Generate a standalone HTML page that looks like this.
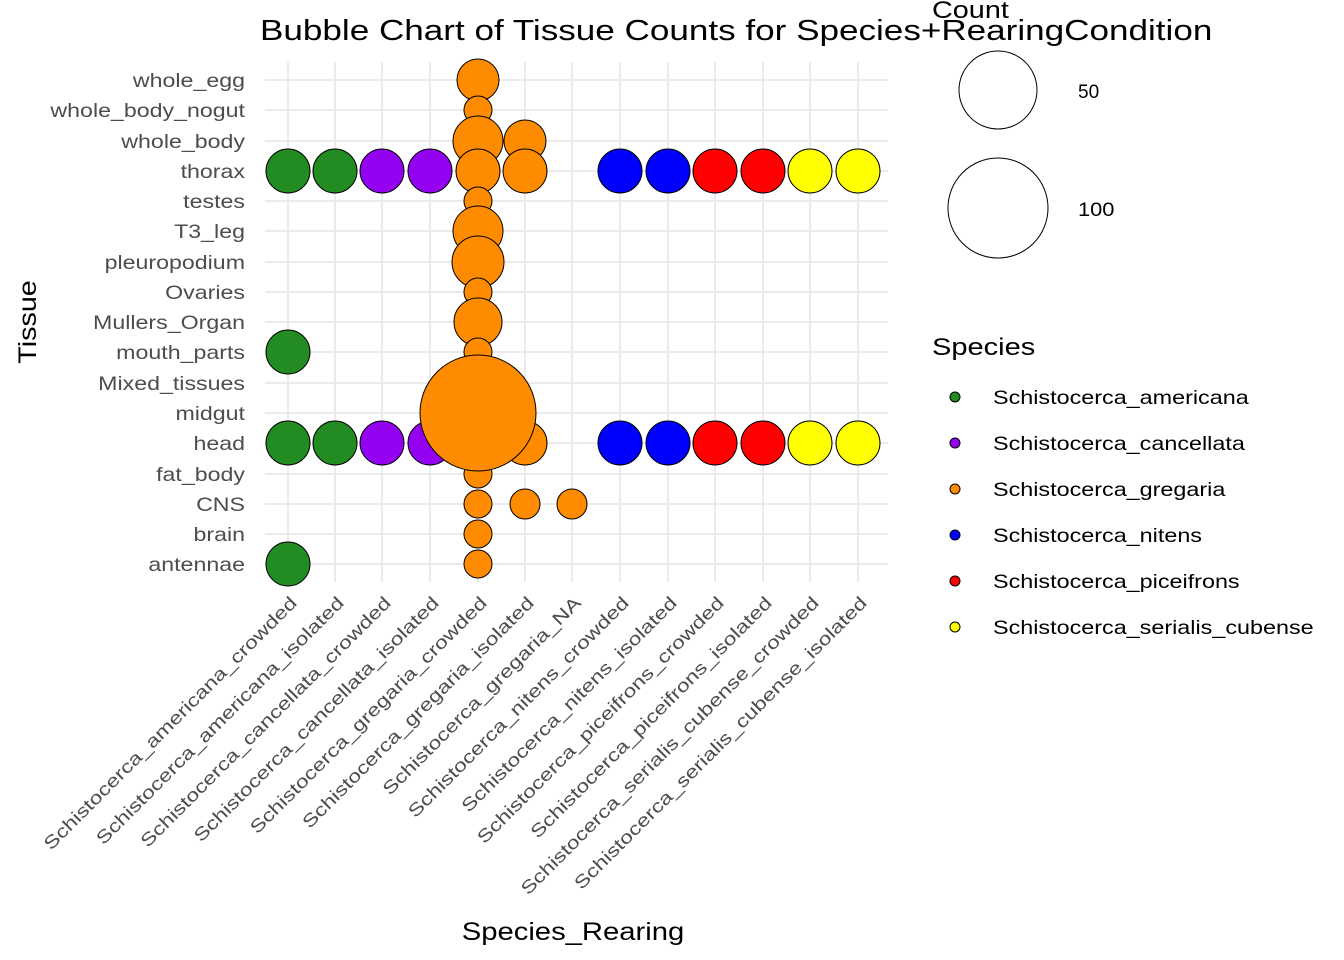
<!DOCTYPE html>
<html><head><meta charset="utf-8"><style>body{margin:0;background:#fff}svg{display:block}</style></head><body>
<svg width="1344" height="960" xmlns="http://www.w3.org/2000/svg" font-family="Liberation Sans, Arial, sans-serif">
<rect width="1344" height="960" fill="#fff"/>
<g stroke="#ebebeb" stroke-width="2">
<line x1="265" x2="888" y1="80" y2="80"/><line x1="265" x2="888" y1="110" y2="110"/><line x1="265" x2="888" y1="141" y2="141"/><line x1="265" x2="888" y1="171" y2="171"/><line x1="265" x2="888" y1="201" y2="201"/><line x1="265" x2="888" y1="231" y2="231"/><line x1="265" x2="888" y1="262" y2="262"/><line x1="265" x2="888" y1="292" y2="292"/><line x1="265" x2="888" y1="322" y2="322"/><line x1="265" x2="888" y1="352" y2="352"/><line x1="265" x2="888" y1="383" y2="383"/><line x1="265" x2="888" y1="413" y2="413"/><line x1="265" x2="888" y1="443" y2="443"/><line x1="265" x2="888" y1="474" y2="474"/><line x1="265" x2="888" y1="504" y2="504"/><line x1="265" x2="888" y1="534" y2="534"/><line x1="265" x2="888" y1="564" y2="564"/>
<line y1="62" y2="582" x1="288" x2="288"/><line y1="62" y2="582" x1="335" x2="335"/><line y1="62" y2="582" x1="382" x2="382"/><line y1="62" y2="582" x1="430" x2="430"/><line y1="62" y2="582" x1="478" x2="478"/><line y1="62" y2="582" x1="525" x2="525"/><line y1="62" y2="582" x1="572" x2="572"/><line y1="62" y2="582" x1="620" x2="620"/><line y1="62" y2="582" x1="668" x2="668"/><line y1="62" y2="582" x1="715" x2="715"/><line y1="62" y2="582" x1="763" x2="763"/><line y1="62" y2="582" x1="810" x2="810"/><line y1="62" y2="582" x1="858" x2="858"/>
</g>
<g stroke="#000" stroke-width="1">
<circle cx="288" cy="171" r="22" fill="#228B22"/><circle cx="335" cy="171" r="22" fill="#228B22"/><circle cx="382" cy="171" r="22" fill="#9400F0"/><circle cx="430" cy="171" r="22" fill="#9400F0"/>
<circle cx="288" cy="443" r="22" fill="#228B22"/><circle cx="335" cy="443" r="22" fill="#228B22"/><circle cx="382" cy="443" r="22" fill="#9400F0"/><circle cx="430" cy="443" r="22" fill="#9400F0"/>
<circle cx="288" cy="352" r="22" fill="#228B22"/><circle cx="288" cy="564" r="22" fill="#228B22"/>
<circle cx="620" cy="171" r="22" fill="#0000FF"/><circle cx="668" cy="171" r="22" fill="#0000FF"/><circle cx="715" cy="171" r="22" fill="#FF0000"/><circle cx="763" cy="171" r="22" fill="#FF0000"/><circle cx="810" cy="171" r="22" fill="#FFFF00"/><circle cx="858" cy="171" r="22" fill="#FFFF00"/>
<circle cx="620" cy="443" r="22" fill="#0000FF"/><circle cx="668" cy="443" r="22" fill="#0000FF"/><circle cx="715" cy="443" r="22" fill="#FF0000"/><circle cx="763" cy="443" r="22" fill="#FF0000"/><circle cx="810" cy="443" r="22" fill="#FFFF00"/><circle cx="858" cy="443" r="22" fill="#FFFF00"/>
<g fill="#FF8C00">
<circle cx="478" cy="80" r="21"/><circle cx="478" cy="110" r="14"/><circle cx="478" cy="141" r="25"/><circle cx="478" cy="171" r="22"/><circle cx="478" cy="201" r="14"/><circle cx="478" cy="231" r="25"/><circle cx="478" cy="262" r="26"/><circle cx="478" cy="292" r="14"/><circle cx="478" cy="322" r="24"/><circle cx="478" cy="352" r="14"/>
<circle cx="478" cy="474" r="14"/><circle cx="478" cy="504" r="14"/><circle cx="478" cy="534" r="14"/><circle cx="478" cy="564" r="14"/>
<circle cx="525" cy="141" r="21"/><circle cx="525" cy="171" r="22"/><circle cx="525" cy="443" r="22"/><circle cx="525" cy="504" r="15"/><circle cx="572" cy="504" r="15"/>
<circle cx="478" cy="413" r="58"/>
</g>
</g>
<g font-size="19" fill="#4d4d4d" text-anchor="end">
<text transform="translate(245,87) scale(1.22,1)">whole_egg</text><text transform="translate(245,117) scale(1.22,1)">whole_body_nogut</text><text transform="translate(245,148) scale(1.22,1)">whole_body</text><text transform="translate(245,178) scale(1.22,1)">thorax</text><text transform="translate(245,208) scale(1.22,1)">testes</text><text transform="translate(245,238) scale(1.22,1)">T3_leg</text><text transform="translate(245,269) scale(1.22,1)">pleuropodium</text><text transform="translate(245,299) scale(1.22,1)">Ovaries</text><text transform="translate(245,329) scale(1.22,1)">Mullers_Organ</text><text transform="translate(245,359) scale(1.22,1)">mouth_parts</text><text transform="translate(245,390) scale(1.22,1)">Mixed_tissues</text><text transform="translate(245,420) scale(1.22,1)">midgut</text><text transform="translate(245,450) scale(1.22,1)">head</text><text transform="translate(245,481) scale(1.22,1)">fat_body</text><text transform="translate(245,511) scale(1.22,1)">CNS</text><text transform="translate(245,541) scale(1.22,1)">brain</text><text transform="translate(245,571) scale(1.22,1)">antennae</text>
</g>
<g font-size="18" fill="#4d4d4d" text-anchor="end">
<text transform="translate(298,604) rotate(-45) scale(1.27,1)">Schistocerca_americana_crowded</text>
<text transform="translate(345,604) rotate(-45) scale(1.27,1)">Schistocerca_americana_isolated</text>
<text transform="translate(392,604) rotate(-45) scale(1.27,1)">Schistocerca_cancellata_crowded</text>
<text transform="translate(440,604) rotate(-45) scale(1.27,1)">Schistocerca_cancellata_isolated</text>
<text transform="translate(488,604) rotate(-45) scale(1.27,1)">Schistocerca_gregaria_crowded</text>
<text transform="translate(535,604) rotate(-45) scale(1.27,1)">Schistocerca_gregaria_isolated</text>
<text transform="translate(582,604) rotate(-45) scale(1.27,1)">Schistocerca_gregaria_NA</text>
<text transform="translate(630,604) rotate(-45) scale(1.27,1)">Schistocerca_nitens_crowded</text>
<text transform="translate(678,604) rotate(-45) scale(1.27,1)">Schistocerca_nitens_isolated</text>
<text transform="translate(725,604) rotate(-45) scale(1.27,1)">Schistocerca_piceifrons_crowded</text>
<text transform="translate(773,604) rotate(-45) scale(1.27,1)">Schistocerca_piceifrons_isolated</text>
<text transform="translate(820,604) rotate(-45) scale(1.27,1)">Schistocerca_serialis_cubense_crowded</text>
<text transform="translate(868,604) rotate(-45) scale(1.27,1)">Schistocerca_serialis_cubense_isolated</text>
</g>
<text transform="translate(260,40) scale(1.21,1)" font-size="29" fill="#000">Bubble Chart of Tissue Counts for Species+RearingCondition</text>
<text transform="translate(573,940) scale(1.17,1)" font-size="25" text-anchor="middle">Species_Rearing</text>
<text transform="translate(36,322) rotate(-90) scale(1.15,1)" font-size="25" text-anchor="middle">Tissue</text>
<text transform="translate(932,18) scale(1.2,1)" font-size="24">Count</text>
<circle cx="998" cy="90" r="39" fill="#fff" stroke="#000"/><circle cx="998" cy="208" r="50" fill="#fff" stroke="#000"/>
<text x="1078" y="98" font-size="19">50</text><text transform="translate(1078,216) scale(1.15,1)" font-size="19">100</text>
<text transform="translate(932,355) scale(1.21,1)" font-size="24">Species</text>
<g stroke="#000"><circle cx="955" cy="397" r="5" fill="#228B22"/><circle cx="955" cy="443" r="5" fill="#9400F0"/><circle cx="955" cy="489" r="5" fill="#FF8C00"/><circle cx="955" cy="535" r="5" fill="#0000FF"/><circle cx="955" cy="581" r="5" fill="#FF0000"/><circle cx="955" cy="627" r="5" fill="#FFFF00"/></g>
<g font-size="19"><text transform="translate(993,404) scale(1.23,1)">Schistocerca_americana</text><text transform="translate(993,450) scale(1.23,1)">Schistocerca_cancellata</text><text transform="translate(993,496) scale(1.23,1)">Schistocerca_gregaria</text><text transform="translate(993,542) scale(1.23,1)">Schistocerca_nitens</text><text transform="translate(993,588) scale(1.23,1)">Schistocerca_piceifrons</text><text transform="translate(993,634) scale(1.23,1)">Schistocerca_serialis_cubense</text></g>
</svg>
</body></html>
